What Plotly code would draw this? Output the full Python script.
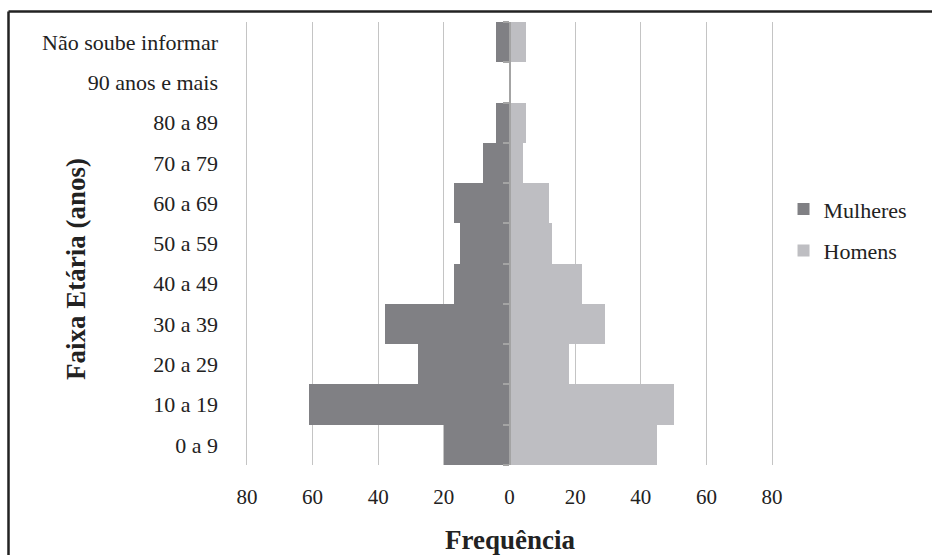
import plotly.graph_objects as go

categories = ["0 a 9", "10 a 19", "20 a 29", "30 a 39", "40 a 49", "50 a 59",
              "60 a 69", "70 a 79", "80 a 89", "90 anos e mais", "Não soube informar"]
mulheres = [20, 61, 28, 38, 17, 15, 17, 8, 4, 0, 4]
homens = [45, 50, 18, 29, 22, 13, 12, 4, 5, 0, 5]
tick_vals = [-80, -60, -40, -20, 0, 20, 40, 60, 80]
tick_text = ["80", "60", "40", "20", "0", "20", "40", "60", "80"]

FONT = "Liberation Serif"
TXT = "#222222"
C_W = "#808084"
C_M = "#bebec2"

L, R, T, B = 245, 158, 22, 90
PW, PH = 932 - L - R, 555 - T - B


def px(x):
    return (x - L) / PW


def py(y):
    return (555 - B - y) / PH


fig = go.Figure()
fig.add_trace(go.Bar(y=categories, x=[-v for v in mulheres], orientation="h",
                     name="Mulheres", marker=dict(color=C_W, line=dict(width=0)),
                     legendgroup="w", yaxis="y"))
fig.add_trace(go.Bar(y=categories, x=homens, orientation="h",
                     name="Homens", marker=dict(color=C_M, line=dict(width=0)),
                     legendgroup="m", yaxis="y2"))

fig.update_layout(
    template="none",
    width=932, height=555,
    margin=dict(l=L, r=R, t=T, b=B, pad=0),
    paper_bgcolor="white", plot_bgcolor="white",
    barmode="overlay", bargap=0,
    font=dict(family=FONT, size=21, color=TXT),
    xaxis=dict(range=[-80.6, 80.6], tickvals=tick_vals, ticktext=tick_text,
               showgrid=True, gridcolor="#c4c4c4", gridwidth=1,
               zeroline=False, showline=False, ticks="",
               ticklabelstandoff=17, tickfont=dict(family=FONT, size=21, color=TXT)),
    yaxis=dict(type="category", categoryorder="array", categoryarray=categories,
               range=[-0.5, 10.5], showgrid=False, zeroline=False, showline=False,
               ticks="", ticklabelstandoff=26, tickfont=dict(family=FONT, size=22, color=TXT)),
    yaxis2=dict(type="category", categoryorder="array", categoryarray=categories,
                range=[-0.5, 10.5], overlaying="y", anchor="free", position=0.5,
                side="left", showgrid=False, zeroline=False, showline=True,
                linecolor="#a4a4a4", linewidth=2, ticks="outside", tickson="boundaries",
                ticklen=6, tickwidth=1.5, tickcolor="#a4a4a4", showticklabels=False),
    legend=dict(x=1.018, y=0.53, xanchor="left", yanchor="middle",
                font=dict(family=FONT, size=22, color=TXT), traceorder="grouped",
                tracegroupgap=10, itemwidth=30, bgcolor="rgba(0,0,0,0)"),
    annotations=[
        dict(text="<b>Faixa Etária (anos)</b>", xref="paper", yref="paper",
             x=px(76), y=py(269), textangle=-90, showarrow=False,
             font=dict(size=27, family=FONT, color=TXT), xanchor="center", yanchor="middle"),
        dict(text="<b>Frequência</b>", xref="paper", yref="paper",
             x=px(510), y=py(540), showarrow=False,
             font=dict(size=27, family=FONT, color=TXT), xanchor="center", yanchor="middle"),
    ],
    shapes=[
        dict(type="line", xref="paper", yref="paper",
             x0=px(8.5), x1=px(940), y0=py(11.5), y1=py(11.5),
             line=dict(color=TXT, width=2.5)),
        dict(type="line", xref="paper", yref="paper",
             x0=px(8.5), x1=px(8.5), y0=py(11.5), y1=py(570),
             line=dict(color=TXT, width=2.5)),
    ],
)

fig.write_html("out.html")
